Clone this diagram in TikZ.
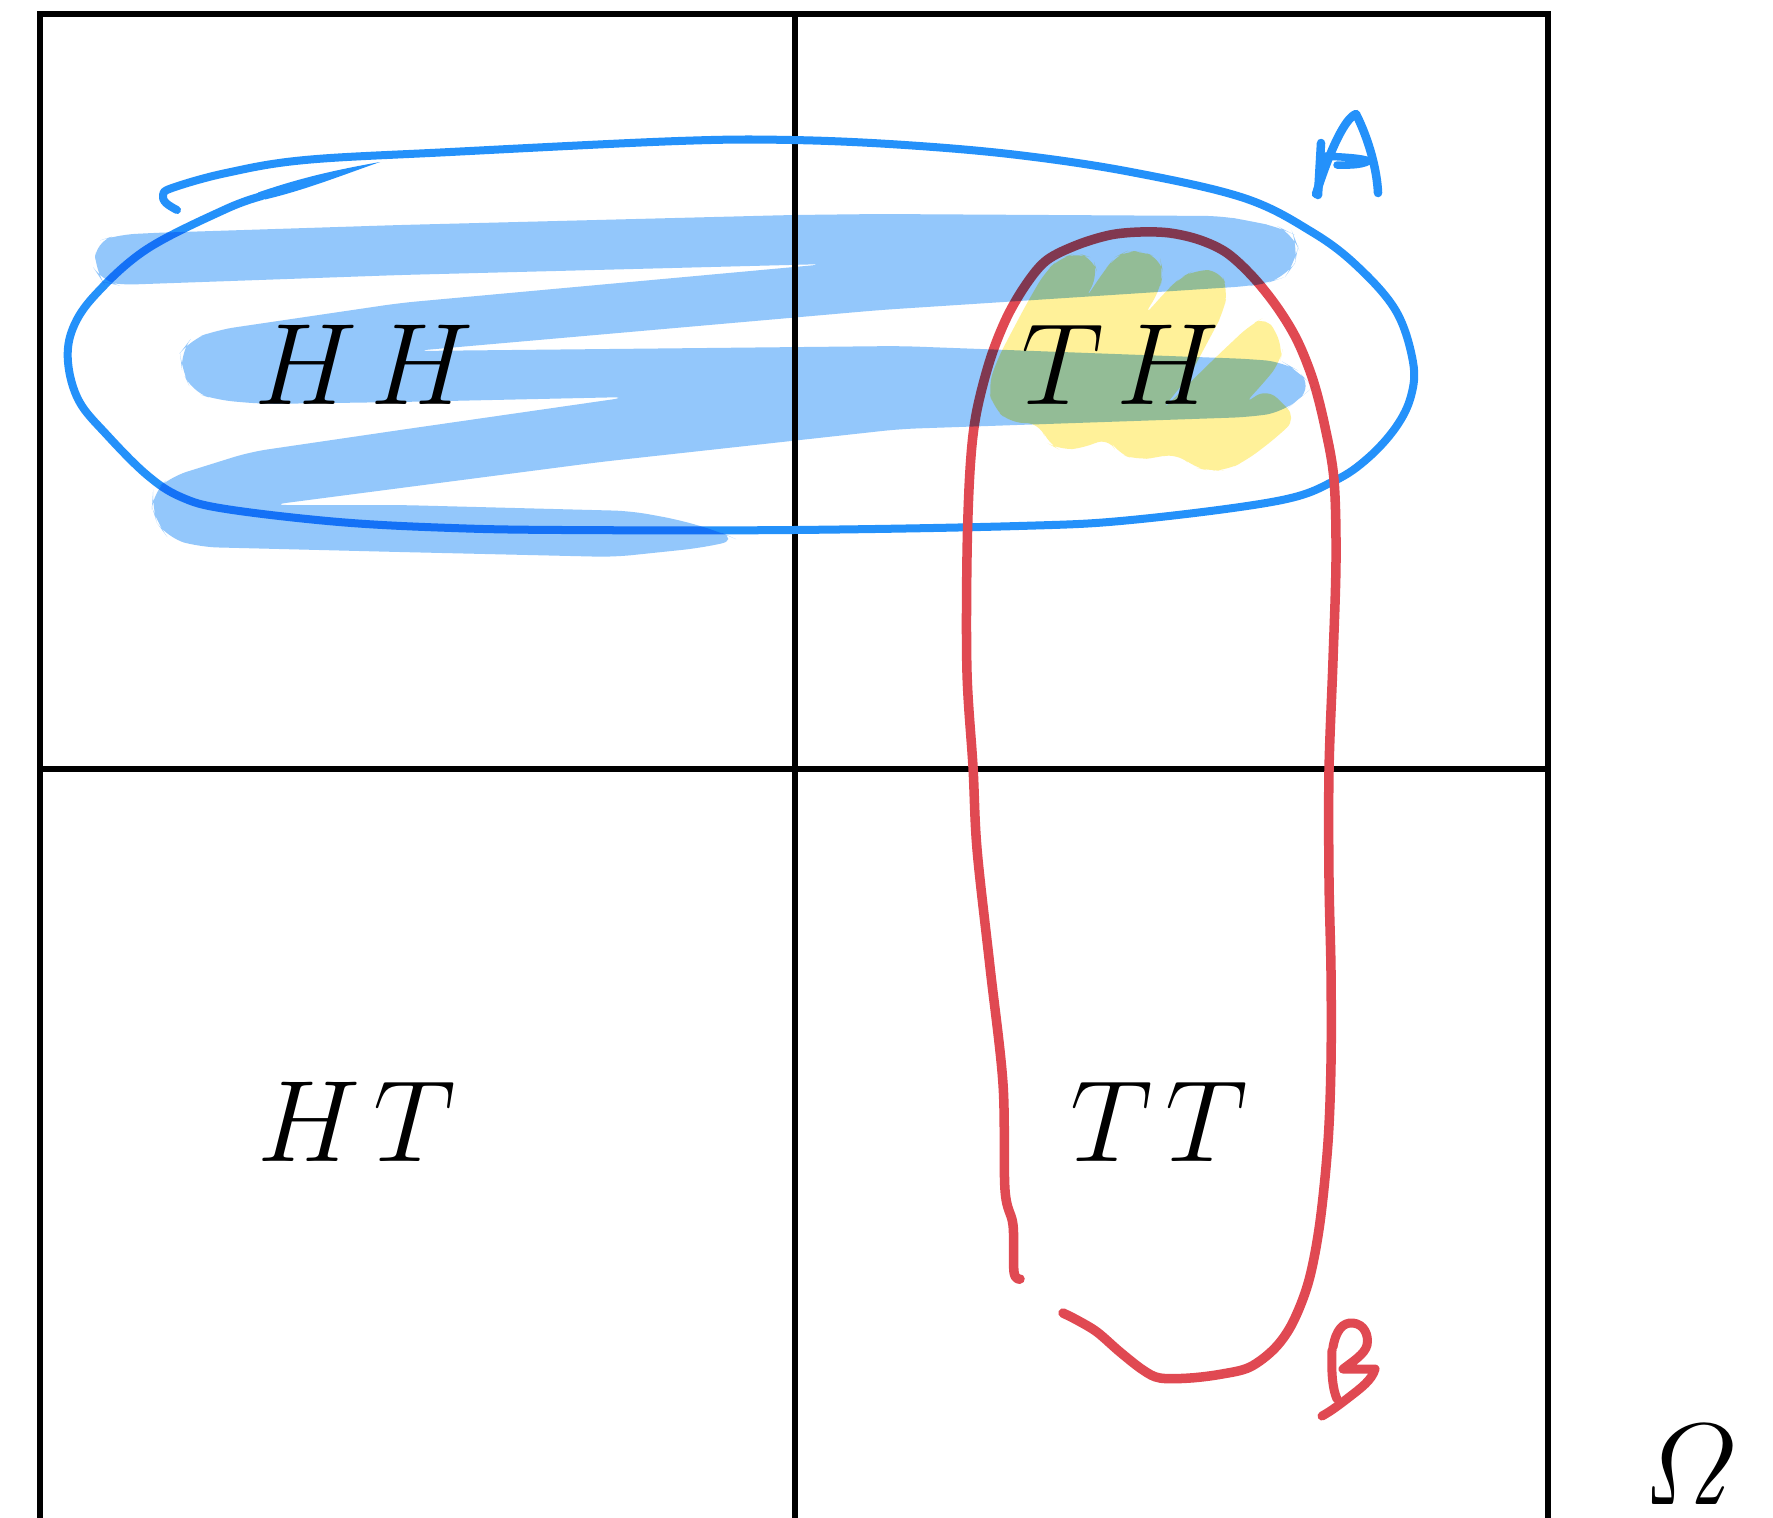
\documentclass[tikz,border=0pt]{standalone}
\usepackage{graphicx}
\usepackage{amsmath}
\definecolor{penblue}{RGB}{36,145,250}
\definecolor{hlblue}{RGB}{147,199,251}
\definecolor{hlyellow}{RGB}{255,241,153}
\definecolor{penred}{RGB}{224,73,82}
\newcommand{\lbltext}[1]{\scalebox{1.326}{\fontsize{24.88}{30}\selectfont$#1$}}
\tikzset{
  gridline/.style={black, line width=0.06cm, line join=miter},
  bluepen/.style={penblue, line width=0.08cm, line cap=round, line join=round},
  redpen/.style={penred, line width=0.095cm, line cap=round, line join=round},
  lbl/.style={inner sep=0pt, anchor=base}
}
\begin{document}
\begin{tikzpicture}[x=0.01cm,y=-0.01cm]
\useasboundingbox (0,0) rectangle (1773,1517);
\clip (0,0) rectangle (1773,1517);
\fill[white] (0,0) rectangle (1773,1517);

% grid
\draw[gridline] (40,1540) -- (40,14) -- (1548,14) -- (1548,1540);
\draw[gridline] (795,14) -- (795,1540);
\draw[gridline] (40,769) -- (1548,769);

% labels
\node[lbl] (hh) at (364,404) {\lbltext{H\mkern2mu H}};
\node[lbl] (th) at (1121,404) {\lbltext{T\mkern2mu H}};
\node[lbl] (ht) at (357,1161) {\lbltext{H\mkern2mu T}};
\node[lbl] (tt) at (1159,1161) {\lbltext{T\mkern2mu T}};
\node[lbl] (om) at (1690,1504) {\lbltext{\varOmega}};

% blue outline (event A)
\draw[bluepen] plot[smooth, tension=0.6] coordinates {
 (177,210) (166,203) (163,195) (172,188) (226,173) (305,160) (450,152)
 (678,141) (792,140) (905,145) (1018,155) (1131,172) (1244,198) (1312,232)
 (1357,266) (1396,311) (1413,362) (1411,396) (1396,427) (1368,458) (1334,481)
 (1277,501) (1131,520) (1018,526) (792,530) (565,530) (452,528) (339,522)
 (226,509) (181,497) (147,475) (107,435) (79,401) (68,362) (73,328) (96,294)
 (147,249) (226,209) (262,196)};
\fill[penblue] (258,192.5) .. controls (300,178) and (335,170) .. (380,162)
  .. controls (340,176) and (305,190) .. (265,199.5) -- cycle;

% letter A
\draw[bluepen, line width=0.085cm] (1321,143) -- (1318,195);
\draw[bluepen, line width=0.085cm] (1316,194) .. controls (1330,150) and (1345,118) .. (1356,114)
  .. controls (1369,140) and (1377,170) .. (1378,193);
\draw[bluepen, line width=0.075cm] (1322,156) .. controls (1345,157) and (1362,158) .. (1369,161)
  .. controls (1360,166) and (1345,165) .. (1337,165);

% red outline (event B)
\draw[redpen] plot[smooth, tension=0.55] coordinates {
 (1020,1279) (1014,1272) (1013,1225) (1005,1190) (1003,1084) (990,967) (977,849)
 (973,767) (967,673) (967,556) (970,470) (976,415) (990,360) (1007,317) (1027,283)
 (1047,260) (1077,245) (1110,235) (1140,232) (1170,233) (1200,240) (1227,253) (1253,277)
 (1277,307) (1297,340) (1313,380) (1325,427) (1334,480) (1336,560) (1333,660) (1329,770)
 (1329,880) (1331,972) (1331,1063) (1328,1142) (1320,1222) (1309,1280) (1293,1322)
 (1275,1348) (1250,1367) (1222,1374) (1190,1378) (1160,1378) (1143,1370)
 (1120,1352) (1097,1332) (1077,1320) (1063,1313)};

% letter B
\draw[redpen, line width=0.09cm] (1332,1350) .. controls (1331,1375) and (1333,1390) .. (1337,1399);
\draw[redpen, line width=0.09cm] (1333,1347) .. controls (1336,1330) and (1343,1322) .. (1353,1323)
  .. controls (1364,1324) and (1369,1335) .. (1367,1345)
  .. controls (1365,1354) and (1352,1362) .. (1343,1369)
  -- (1375,1369) .. controls (1372,1380) and (1361,1388) .. (1348,1398)
  .. controls (1339,1405) and (1331,1411) .. (1322,1416);

% highlighter strokes
\begin{scope}[blend mode=multiply]
\fill[hlblue, rounded corners=5] (95,242) -- (117,235) -- (150,233) -- (400,225) -- (792,215) -- (880,214)
 -- (1222,216) -- (1250,221) -- (1279,227) -- (1293,234) -- (1298,247) -- (1295,263)
 -- (1285,277) -- (1267,283) -- (1250,286) -- (880,310) -- (413,351)
 -- (900,346) -- (1250,359) -- (1283,362) -- (1297,370) -- (1313,387) -- (1300,398)
 -- (1283,412) -- (1250,417) -- (900,429) -- (600,462) -- (270,505)
 -- (400,505) -- (631,511) -- (680,520) -- (720,532) -- (738,540)
 -- (700,548) -- (614,557) -- (400,552) -- (200,547) -- (168,538) -- (157,523)
 -- (152,507) -- (153,492) -- (170,477) -- (250,452) -- (400,430) -- (629,397)
 -- (400,402) -- (263,404) -- (217,400) -- (192,392) -- (182,370) -- (180,353)
 -- (190,340) -- (217,330) -- (400,303) -- (827,264)
 -- (400,275) -- (117,285) -- (103,282) -- (95,270) -- cycle;
\fill[hlyellow, rounded corners=4] (1027,303) -- (1045,272) -- (1060,258) -- (1077,253) -- (1093,258)
 -- (1098,275) -- (1084,301) -- (1104,271) -- (1115,257) -- (1127,251) -- (1140,251)
 -- (1160,258) -- (1163,272) -- (1160,290) -- (1143,317) -- (1168,289) -- (1180,278)
 -- (1195,270) -- (1220,270) -- (1228,290) -- (1223,313) -- (1213,332) -- (1190,375)
 -- (1160,412) -- (1215,358) -- (1250,325) -- (1267,316) -- (1283,347) -- (1280,363)
 -- (1260,387) -- (1243,405) -- (1267,388) -- (1297,418) -- (1277,437) -- (1247,460)
 -- (1227,470) -- (1210,471) -- (1193,467) -- (1177,453) -- (1160,457) -- (1137,460)
 -- (1117,453) -- (1108,437) -- (1085,448) -- (1060,450) -- (1047,443) -- (1040,423)
 -- (1010,423) -- (993,407) -- (988,387) -- (997,360) -- (1010,335) -- cycle;
\end{scope}
\end{tikzpicture}
\end{document}
